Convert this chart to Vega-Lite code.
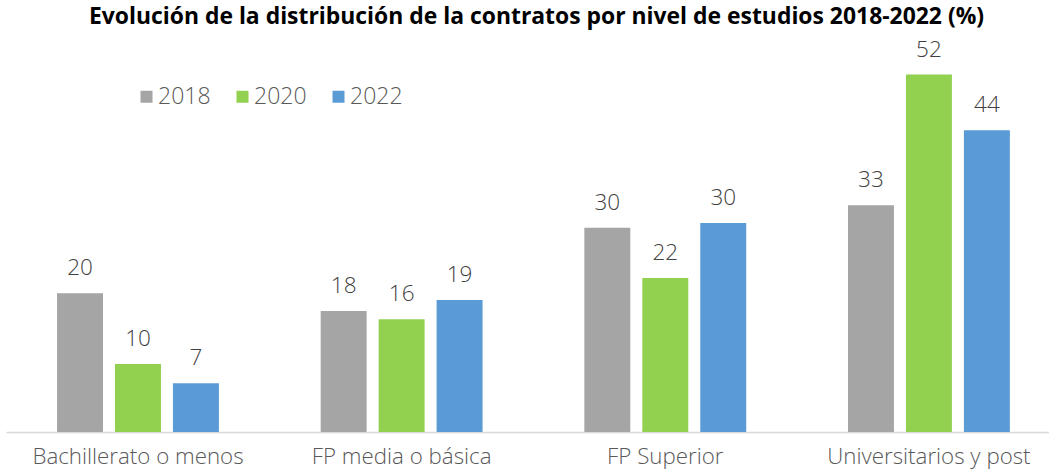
{
  "$schema": "https://vega.github.io/schema/vega-lite/v6.json",
  "autosize": {"type": "none"},
  "width": 1043,
  "height": 385,
  "padding": {"left": 6, "top": 47, "right": 0, "bottom": 41},
  "background": "white",
  "title": {
    "text": "Evolución de la distribución de la contratos por nivel de estudios 2018-2022 (%)",
    "font": "Open Sans",
    "fontSize": 22.9,
    "fontWeight": "bold",
    "color": "#000000",
    "anchor": "middle",
    "offset": 10,
    "dx": 9
  },
  "data": {
    "values": [
      {"nivel": "Bachillerato o menos", "anio": "2018", "valor": 20.2},
      {"nivel": "Bachillerato o menos", "anio": "2020", "valor": 9.9},
      {"nivel": "Bachillerato o menos", "anio": "2022", "valor": 7.1},
      {"nivel": "FP media o básica", "anio": "2018", "valor": 17.6},
      {"nivel": "FP media o básica", "anio": "2020", "valor": 16.4},
      {"nivel": "FP media o básica", "anio": "2022", "valor": 19.2},
      {"nivel": "FP Superior", "anio": "2018", "valor": 29.7},
      {"nivel": "FP Superior", "anio": "2020", "valor": 22.4},
      {"nivel": "FP Superior", "anio": "2022", "valor": 30.4},
      {"nivel": "Universitarios y post", "anio": "2018", "valor": 33.0},
      {"nivel": "Universitarios y post", "anio": "2020", "valor": 52.0},
      {"nivel": "Universitarios y post", "anio": "2022", "valor": 43.9}
    ]
  },
  "encoding": {
    "x": {
      "field": "nivel",
      "type": "nominal",
      "sort": null,
      "scale": {"paddingInner": 0.386, "paddingOuter": 0.171, "align": 0.566},
      "axis": {
        "title": null,
        "labelAngle": 0,
        "labelFont": "Open Sans",
        "labelFontSize": 22.3,
        "labelFontWeight": 300,
        "labelColor": "#595959",
        "labelPadding": 13,
        "labelLimit": 0,
        "ticks": false,
        "domainColor": "#D9D9D9",
        "domainWidth": 1.5,
        "grid": false
      }
    },
    "xOffset": {
      "field": "anio",
      "type": "nominal",
      "scale": {"paddingInner": 0.207, "paddingOuter": 0}
    },
    "y": {
      "field": "valor",
      "type": "quantitative",
      "scale": {"domain": [0, 56], "nice": false},
      "axis": null
    }
  },
  "layer": [
    {
      "mark": {"type": "bar"},
      "encoding": {
        "color": {
          "field": "anio",
          "type": "nominal",
          "scale": {"domain": ["2018", "2020", "2022"], "range": ["#A5A5A5", "#92D050", "#5B9BD5"]},
          "legend": {
            "title": null,
            "orient": "none",
            "direction": "horizontal",
            "legendX": 129,
            "legendY": 38,
            "symbolType": "square",
            "symbolSize": 144,
            "symbolStrokeWidth": 0,
            "labelFont": "Open Sans",
            "labelFontSize": 23,
            "labelFontWeight": 300,
            "labelColor": "#595959",
            "labelOffset": 0,
            "columnPadding": 20
          }
        }
      }
    },
    {
      "mark": {
        "type": "text",
        "baseline": "alphabetic",
        "dy": -18,
        "font": "Open Sans",
        "fontSize": 22.5,
        "fontWeight": 300,
        "color": "#404040"
      },
      "encoding": {
        "text": {"field": "valor", "type": "quantitative", "format": ".0f"}
      }
    }
  ],
  "config": {"view": {"stroke": null}}
}
